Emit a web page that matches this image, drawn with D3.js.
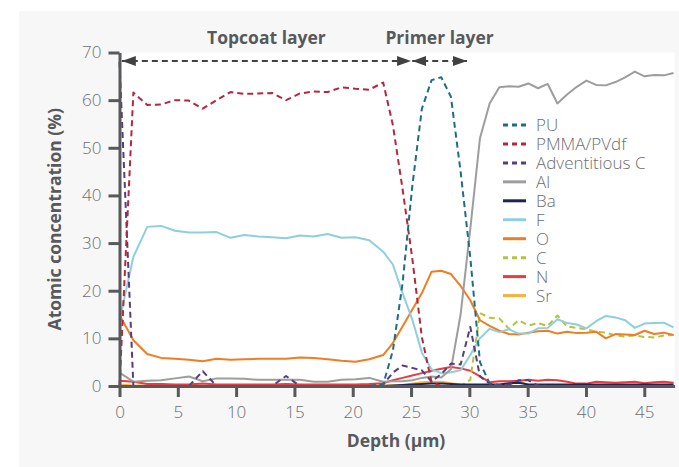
<!DOCTYPE html>
<html lang="en">
<head>
    <meta charset="UTF-8">
    <title>Depth profile</title>
    <script src="https://cdn.jsdelivr.net/npm/d3@7/dist/d3.min.js"></script>
    <style>
        body {
            margin: 0;
            background: #ffffff;
        }
        svg {
            display: block;
            font-family: "Open Sans", Roboto, "Liberation Sans", Arial, sans-serif;
        }
        .tick text {
            font-size: 17px;
            font-weight: 300;
            fill: #6d6e71;
        }
        .axis-label {
            font-size: 17.5px;
            font-weight: 700;
            fill: #58595b;
        }
        .legend text {
            font-size: 17px;
            font-weight: 300;
            fill: #6d6e71;
        }
    </style>
</head>
<body>
    <svg width="679" height="467"></svg>
    <script>
        // depth (µm) of each sputter step
        const depth = [0, 1.19, 2.38, 3.57, 4.76, 5.95, 7.14, 8.33, 9.52, 10.71,
            11.9, 13.09, 14.28, 15.47, 16.66, 17.85, 19.04, 20.23, 21.42, 22.61,
            23.44, 24.27, 25.1, 25.93, 26.76, 27.59, 28.42, 29.25, 30.08, 30.91,
            31.74, 32.57, 33.4, 34.23, 35.06, 35.89, 36.72, 37.55, 38.38, 39.21,
            40.04, 40.87, 41.7, 42.53, 43.36, 44.19, 45.02, 45.85, 46.68, 47.51];

        const pu = [0, 0, 0, 0, 0, 0, 0, 0, 0, 0, 0, 0, 0, 0, 0, 0, 0, 0, 0, 0.3,
            7.4, 21.5, 41.8, 58.2, 64.2, 64.8, 60.7, 45, 27, 5,
            0.5, 0, 0, 0, 0, 0, 0, 0, 0, 0, 0, 0, 0, 0, 0, 0, 0, 0, 0, 0];
        const pmma = [0, 61.6, 59.0, 59.1, 60.0, 59.9, 58.2, 60.0, 61.7, 61.3,
            61.4, 61.5, 60.0, 61.4, 61.8, 61.7, 62.7, 62.4, 62.2, 63.7,
            54.8, 41.4, 26.9, 10.2, 0.8, 0, 0, 0, 0, 0,
            0, 0, 0, 0, 0, 0, 0, 0, 0, 0, 0, 0, 0, 0, 0, 0, 0, 0, 0, 0];
        const advC = [68, 0, 0, 0, 0, 0, 3.1, 0, 0, 0, 0, 0, 2.1, 0, 0, 0, 0, 0, 0, 0.3,
            2.8, 4.3, 3.8, 3.3, 0.9, 2.5, 4.7, 4.5, 12.4, 2.0,
            0.5, 0.2, 0.3, 1.2, 1.2, 0.1, 0, 0, 0, 0, 0, 0, 0, 0, 0, 0, 0, 0, 0, 0];
        const al = [2.8, 0.9, 1.1, 1.2, 1.6, 2.0, 1.0, 1.6, 1.6, 1.5,
            1.3, 1.3, 1.3, 1.3, 0.9, 0.9, 1.3, 1.4, 1.7, 0.9,
            1.0, 1.0, 1.2, 1.7, 2.0, 1.8, 3.5, 15, 33, 52,
            59.3, 62.7, 62.9, 62.8, 63.5, 62.5, 63.4, 59.3, 61.2, 62.8,
            64.1, 63.2, 63.1, 63.8, 64.8, 66.0, 65.0, 65.3, 65.2, 65.7];
        const ba = [0, 0, 0, 0, 0, 0, 0, 0, 0, 0, 0, 0, 0, 0, 0, 0, 0, 0, 0, 0,
            0.1, 0.2, 0.3, 0.4, 0.5, 0.5, 0.4, 0.3, 0.3, 0.3,
            0.3, 0.3, 0.6, 0.7, 0.3, 0.3, 0.3, 0.3, 0.3, 0.3,
            0.3, 0.3, 0.3, 0.3, 0.3, 0.3, 0.3, 0.3, 0.3, 0.3];
        const f = [13.8, 27.1, 33.4, 33.6, 32.6, 32.2, 32.2, 32.3, 31.1, 31.7,
            31.4, 31.2, 31.0, 31.6, 31.4, 31.9, 31.1, 31.2, 30.6, 28.2,
            25.5, 19.5, 14, 7, 3.5, 2.7, 2.9, 3.3, 6.5, 10,
            12, 11.3, 11.9, 11, 11, 12.1, 12.2, 14, 13.2, 12.9,
            12.1, 13.6, 14.7, 14.4, 13.8, 12.2, 13.1, 13.2, 13.3, 12.3];
        const o = [14.9, 9.6, 6.7, 5.9, 5.7, 5.5, 5.2, 5.7, 5.5, 5.6,
            5.7, 5.7, 5.7, 6.0, 5.9, 5.6, 5.3, 5.1, 5.6, 6.5,
            9.0, 12.5, 16, 19.5, 24.0, 24.2, 23.5, 21, 18, 13.8,
            12.6, 11.6, 10.9, 10.8, 11.2, 11.5, 11.6, 11.0, 11.4, 11.1,
            11.2, 11.4, 10.0, 10.9, 10.8, 10.7, 11.6, 10.9, 11.2, 10.7];
        const c = [0, 0, 0, 0, 0, 0, 0, 0, 0, 0, 0, 0, 0, 0, 0, 0, 0, 0, 0, 0,
            0, 0, 0, 0, 0, 0, 0, 0, 1.3, 15.3,
            14.3, 14.2, 12.0, 13.8, 12.7, 13.2, 12.6, 14.8, 12.5, 12.2,
            11.9, 11.4, 11.2, 10.6, 10.4, 10.6, 10.3, 10.2, 10.6, 10.7];
        const n = [1.1, 0.9, 0.4, 0.4, 0.3, 0.3, 0.5, 0.3, 0.3, 0.3,
            0.3, 0.3, 0.4, 0.3, 0.3, 0.3, 0.3, 0.3, 0.4, 0.6,
            1.2, 1.7, 2.2, 2.7, 3.2, 3.6, 4.0, 3.7, 3.2, 2.0,
            0.8, 1.0, 1.0, 1.1, 1.3, 1.1, 1.3, 1.2, 0.9, 0.5,
            0.5, 0.9, 0.8, 0.7, 0.8, 0.9, 0.6, 0.8, 0.9, 0.7];
        const sr = [0.3, 0.1, 0.1, 0.1, 0.1, 0.1, 0.1, 0.1, 0.1, 0.1,
            0.1, 0.1, 0.1, 0.1, 0.1, 0.1, 0.1, 0.1, 0.1, 0.1,
            0.1, 0.2, 0.5, 0.8, 0.9, 0.9, 0.6, 0.3, 0.1, 0.1,
            0.1, 0.1, 0.3, 1.1, 0.1, 0.1, 0.1, 0.1, 0.1, 0.1,
            0.1, 0.1, 0.1, 0.1, 0.1, 0.1, 0.1, 0.1, 0.1, 0.1];

        const seriesNames = ["PU", "PMMA/PVdf", "Adventitious C", "Al", "Ba", "F", "O", "C", "N", "Sr"];
        const seriesValues = [pu, pmma, advC, al, ba, f, o, c, n, sr];
        const seriesColors = ["#1c6f82", "#b5283b", "#573c7e", "#9d9d9d", "#1f2456",
            "#8ecfdc", "#f07d22", "#b5c33a", "#ee3a3e", "#f8b33c"];
        const seriesDashed = [true, true, true, false, false, false, false, true, false, false];

        const yTicks = [0, 10, 20, 30, 40, 50, 60, 70];
        const xTicks = [0, 5, 10, 15, 20, 25, 30, 35, 40, 45];

        // layer spans (µm) shown by arrows on top
        const layers = [
            { name: "Topcoat layer", from: 0.2, to: 25.0 },
            { name: "Primer layer", from: 25.1, to: 29.8 }
        ];

        const svg = d3.select("svg");

        svg.append("rect")
            .attr("x", 19).attr("y", 11)
            .attr("width", 660).attr("height", 456)
            .attr("fill", "#f7f7f7");

        const xScale = d3.scaleLinear().domain([0, 47.6]).range([119.5, 674.6]);
        const yScale = d3.scaleLinear().domain([0, 70]).range([386, 52.5]);

        svg.append("rect")
            .attr("x", xScale(0)).attr("y", yScale(70))
            .attr("width", xScale(47.6) - xScale(0))
            .attr("height", yScale(0) - yScale(70))
            .attr("fill", "#ffffff");

        const line = d3.line()
            .x((d, i) => xScale(depth[i]))
            .y(d => yScale(d));

        // draw back to front
        const drawOrder = [9, 8, 7, 6, 5, 4, 3, 2, 1, 0];
        drawOrder.forEach(k => {
            svg.append("path")
                .datum(seriesValues[k])
                .attr("d", line)
                .attr("fill", "none")
                .attr("stroke", seriesColors[k])
                .attr("stroke-width", 2)
                .attr("stroke-linejoin", "round")
                .attr("stroke-dasharray", seriesDashed[k] ? "6,4" : null);
        });

        // axes
        const xAxis = svg.append("g")
            .attr("transform", `translate(0,${yScale(0)})`)
            .call(d3.axisBottom(xScale).tickValues(xTicks).tickSize(11).tickSizeOuter(0).tickPadding(9));
        const yAxis = svg.append("g")
            .attr("transform", `translate(${xScale(0)},0)`)
            .call(d3.axisLeft(yScale).tickValues(yTicks).tickSize(11).tickSizeOuter(0).tickPadding(7));

        [xAxis, yAxis].forEach(a => {
            a.attr("font-family", null).attr("font-size", null);
            a.select(".domain").attr("stroke", "#58595b").attr("stroke-width", 3);
            a.selectAll(".tick line").attr("stroke", "#58595b").attr("stroke-width", 3);
        });

        svg.append("text")
            .attr("class", "axis-label")
            .attr("x", 396).attr("y", 447)
            .attr("text-anchor", "middle")
            .text("Depth (µm)");

        svg.append("text")
            .attr("class", "axis-label")
            .attr("transform", `translate(61,${(yScale(0) + yScale(70)) / 2}) rotate(-90)`)
            .attr("text-anchor", "middle")
            .text("Atomic concentration (%)");

        // layer arrows
        const defs = svg.append("defs");
        defs.append("marker")
            .attr("id", "head")
            .attr("viewBox", "0 0 14 10")
            .attr("refX", 14).attr("refY", 5)
            .attr("markerWidth", 14).attr("markerHeight", 10)
            .attr("markerUnits", "userSpaceOnUse")
            .attr("orient", "auto-start-reverse")
            .append("path")
            .attr("d", "M0,0L14,5L0,10Z")
            .attr("fill", "#414042");

        layers.forEach(l => {
            svg.append("line")
                .attr("x1", xScale(l.from)).attr("x2", xScale(l.to))
                .attr("y1", 61).attr("y2", 61)
                .attr("stroke", "#414042")
                .attr("stroke-width", 1.8)
                .attr("stroke-dasharray", "6,4")
                .attr("marker-start", "url(#head)")
                .attr("marker-end", "url(#head)");
            svg.append("text")
                .attr("class", "axis-label")
                .attr("x", xScale((l.from + l.to) / 2))
                .attr("y", 44)
                .attr("text-anchor", "middle")
                .text(l.name);
        });

        // legend
        const legend = svg.append("g").attr("class", "legend");
        seriesNames.forEach((name, k) => {
            const y = 125 + k * 18.95;
            legend.append("line")
                .attr("x1", 503).attr("x2", 526)
                .attr("y1", y).attr("y2", y)
                .attr("stroke", seriesColors[k])
                .attr("stroke-width", 3)
                .attr("stroke-dasharray", seriesDashed[k] ? "5,4" : null);
            legend.append("text")
                .attr("x", 536).attr("y", y)
                .attr("dy", "0.36em")
                .text(name);
        });
    </script>
</body>
</html>
